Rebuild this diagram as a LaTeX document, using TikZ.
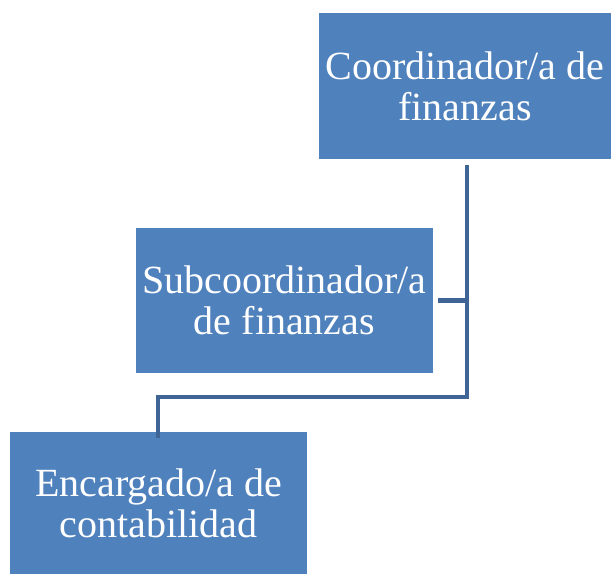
\documentclass[tikz,border=0pt]{standalone}
\usepackage{fontspec}
\setmainfont{Liberation Serif}
\definecolor{cajaazul}{HTML}{4F81BD}
\definecolor{lineaazul}{HTML}{3F6596}
\tikzset{
  caja/.style={draw=none, fill=cajaazul, text=white, align=center,
    font=\fontsize{40}{41}\selectfont, inner sep=0pt},
  linea/.style={draw=lineaazul, line width=4.5pt}
}

\begin{document}
\begin{tikzpicture}[x=1pt, y=-1pt]
\useasboundingbox (0,0) rectangle (611,574);

% cajas del organigrama
\node[caja, minimum width=292pt, minimum height=146pt] (coord) at (465,86) {Coordinador/a de\\finanzas};
\node[caja, minimum width=297pt, minimum height=145pt] (subcoord) at (284.5,300.5) {Subcoordinador/a\\de finanzas};
\node[caja, minimum width=297pt, minimum height=142pt] (encargado) at (158.5,503) {Encargado/a de\\contabilidad};

% conectores
\coordinate (codo) at (467,397);
\draw[linea, shorten <=6pt] (coord.south -| codo) -- (codo) -| ([xshift=-0.5pt, yshift=-6pt]encargado.north);
\draw[linea, shorten <=5pt] (subcoord.east) -- (subcoord.east -| codo);
\end{tikzpicture}
\end{document}
